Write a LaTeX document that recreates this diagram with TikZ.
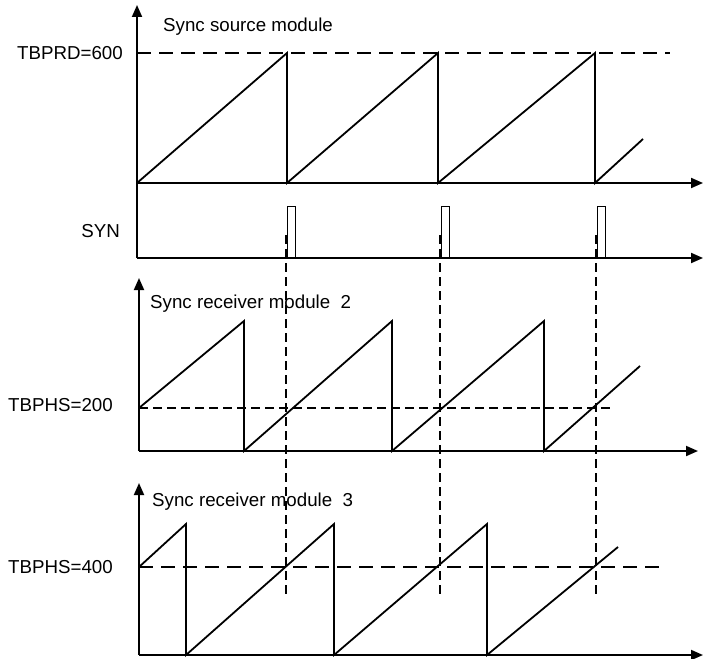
\documentclass[tikz,border=0pt]{standalone}
\usepackage{fontspec}
\setmainfont{Liberation Sans}
\usetikzlibrary{arrows.meta}
\begin{document}
\begin{tikzpicture}[x=1bp,y=-1bp,
  axis/.style={line width=1.9bp,-{Triangle[length=12bp,width=10bp]}},
  wave/.style={line width=1.8bp,line join=miter},
  pulse/.style={line width=1bp},
  guide/.style={line width=1.8bp,dash pattern=on 9bp off 5bp},
  levelA/.style={line width=1.8bp,dash pattern=on 14bp off 8bp},
  levelB/.style={line width=1.8bp,dash pattern=on 9bp off 5bp},
  lbl/.style={inner sep=0pt,font=\fontsize{18.8}{22}\selectfont}]
\useasboundingbox (0,0) rectangle (704,659);
% ---- top panel: sync source ----
\draw[axis] (137,258) -- (137,5);
\draw[axis] (137,183) -- (703,183);
\draw[levelA] (137,53) -- (670,53);
\draw[wave] (137,183) -- (287,53) -- (287,183) -- (438,53) -- (438,183)
  -- (595,53) -- (595,183) -- (643,139);
\node[lbl,anchor=base west] (src) at (163,32) {Sync source module};
\node[lbl,anchor=base east] (prd) at (123,60) {TBPRD=600};
% ---- SYN ----
\draw[axis] (137,258) -- (703,258);
\draw[pulse] (287,258) rectangle (295,206);
\draw[pulse] (441,258) rectangle (449,206);
\draw[pulse] (597,258) rectangle (605,206);
\node[lbl,anchor=base east] (syn) at (120,237) {SYN};
% ---- sync guide lines ----
\draw[guide] (286,235) -- (286,596);
\draw[guide] (440,235) -- (440,596);
\draw[guide] (596,235) -- (596,596);
% ---- middle panel: receiver 2 ----
\draw[axis] (139,451) -- (139,278);
\draw[axis] (139,451) -- (698,451);
\draw[levelB] (139,408) -- (613,408);
\draw[wave] (139,408) -- (244,321) -- (244,451) -- (392,321) -- (392,451)
  -- (544,321) -- (544,451) -- (640,366);
\node[lbl,anchor=base west] (rx2) at (150,308) {Sync receiver module~~2};
\node[lbl,anchor=base east] (phs2) at (113,411) {TBPHS=200};
% ---- bottom panel: receiver 3 ----
\draw[axis] (139,655) -- (139,483);
\draw[axis] (139,655) -- (703,655);
\draw[levelA] (139,567) -- (665,567);
\draw[wave] (139,567) -- (186,524) -- (186,655) -- (334,524) -- (334,655)
  -- (487,524) -- (487,655) -- (618,547);
\node[lbl,anchor=base west] (rx3) at (152,506) {Sync receiver module~~3};
\node[lbl,anchor=base east] (phs3) at (113,573) {TBPHS=400};
\end{tikzpicture}
\end{document}
